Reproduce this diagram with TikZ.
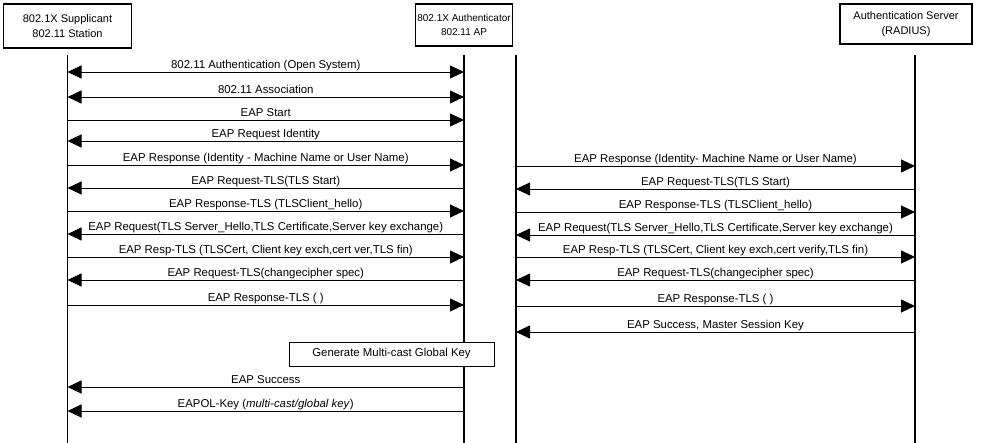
\documentclass[tikz,border=0pt]{standalone}
\usepackage{fontspec}
\setmainfont{Liberation Sans}
\usetikzlibrary{arrows.meta}
\tikzset{actor/.style={draw,line width=1.5pt,align=center,inner sep=2pt,
   font=\fontsize{11}{15}\selectfont},
 life/.style={line width=1.8pt},
 msg/.style={line width=0.9pt,>={Triangle[length=14pt,width=13pt]}},
 lbl/.style={anchor=base,yshift=3.5pt,inner sep=0pt,
   font=\fontsize{11.4}{14}\selectfont},
 note/.style={draw,fill=white,line width=0.8pt,minimum width=205pt,
   minimum height=24pt,font=\fontsize{11.4}{14}\selectfont},
 }

\begin{document}
\begin{tikzpicture}[x=1pt,y=-1pt]
    \useasboundingbox (0,0) rectangle (985,443);
    % the three parties
    \node[actor,minimum width=128pt,minimum height=44pt] (sta) at (67.5,26)
        {802.1X Supplicant\\802.11 Station};
    \node[actor,minimum width=96pt,minimum height=42pt,
        font=\fontsize{10}{14}\selectfont] (ap) at (464,25)
        {802.1X Authenticator\\802.11 AP};
    \node[actor,minimum width=132pt,minimum height=40pt] (srv) at (906,24)
        {Authentication Server\\(RADIUS)};
    \coordinate (sup) at (67.5,55);
    \coordinate (apl) at (464,55);
    \coordinate (apr) at (516,55);
    \coordinate (rad) at (915,55);
    \coordinate (bot) at (0,443);
    % lifelines
    \foreach \p in {sup,apl,apr,rad}
        \draw[life] (\p) -- (\p |- bot);
    % station <-> access point
    \draw[msg,<->] (sup |- 0,72) -- node[lbl] {802.11 Authentication (Open System)} (apl |- 0,72);
    \draw[msg,<->] (sup |- 0,97) -- node[lbl] {802.11 Association} (apl |- 0,97);
    \foreach \y/\a/\b/\txt in {120/sup/apl/EAP Start,
        141/apl/sup/EAP Request Identity,
        165/sup/apl/EAP Response (Identity - Machine Name or User Name),
        188/apl/sup/EAP Request-TLS(TLS Start),
        211/sup/apl/EAP Response-TLS (TLSClient\_hello),
        234/apl/sup/{EAP Request(TLS Server\_Hello,TLS Certificate,Server key exchange)},
        257/sup/apl/{EAP Resp-TLS (TLSCert, Client key exch,cert ver,TLS fin)},
        280/apl/sup/EAP Request-TLS(changecipher spec),
        305/sup/apl/EAP Response-TLS ( ),
        387/apl/sup/EAP Success,
        411/apl/sup/EAPOL-Key (\textit{multi-cast/global key})}
        \draw[msg,->] (\a |- 0,\y) -- node[lbl] {\txt} (\b |- 0,\y);
    % access point <-> radius server
    \foreach \y/\a/\b/\txt in {166/apr/rad/EAP Response (Identity- Machine Name or User Name),
        189/rad/apr/EAP Request-TLS(TLS Start),
        212/apr/rad/EAP Response-TLS (TLSClient\_hello),
        235/rad/apr/{EAP Request(TLS Server\_Hello,TLS Certificate,Server key exchange)},
        257/apr/rad/{EAP Resp-TLS (TLSCert, Client key exch,cert verify,TLS fin)},
        280/rad/apr/EAP Request-TLS(changecipher spec),
        306/apr/rad/EAP Response-TLS ( ),
        332/rad/apr/{EAP Success, Master Session Key}}
        \draw[msg,->] (\a |- 0,\y) -- node[lbl] {\txt} (\b |- 0,\y);
    \node[note] (gen) at (391.5,354) {Generate Multi-cast Global Key};
\end{tikzpicture}
\end{document}
